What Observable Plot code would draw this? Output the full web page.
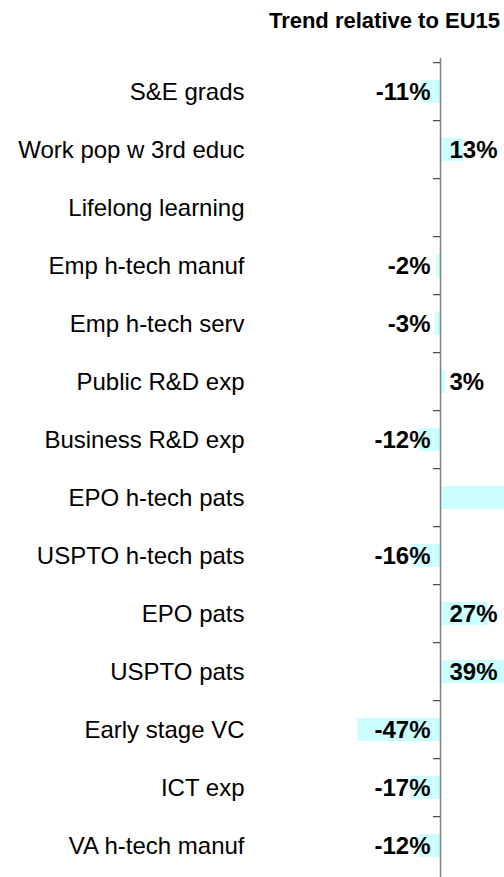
<!DOCTYPE html>
<html>
<head>
<meta charset="utf-8">
<script src="https://cdn.jsdelivr.net/npm/d3@7"></script>
<script src="https://cdn.jsdelivr.net/npm/@observablehq/plot@0.6"></script>
<style>
  html, body { margin: 0; padding: 0; background: #fff; width: 504px; height: 877px; overflow: hidden; }
  #title { height: 58px; box-sizing: border-box; padding-top: 10px; padding-right: 4px; text-align: right;
           font: bold 22px Arial, "Liberation Sans", sans-serif; line-height: 22px; color: #000; white-space: nowrap; }
  #chart svg { display: block; }
</style>
</head>
<body>
<div id="title">Trend relative to EU15</div>
<div id="chart"></div>
<script>
const categories = [
  "S&E grads", "Work pop w 3rd educ", "Lifelong learning", "Emp h-tech manuf",
  "Emp h-tech serv", "Public R&D exp", "Business R&D exp", "EPO h-tech pats",
  "USPTO h-tech pats", "EPO pats", "USPTO pats", "Early stage VC", "ICT exp", "VA h-tech manuf"
];
const values = [-11, 13, null, -2, -3, 3, -12, 60, -16, 27, 39, -47, -17, -12];
const labels = ["-11%", "13%", "", "-2%", "-3%", "3%", "-12%", "", "-16%", "27%", "39%", "-47%", "-17%", "-12%"];

const data = categories.map((c, i) => ({cat: c, value: values[i], label: labels[i]}));

const H = 822;
const step = H / categories.length;

const chart = Plot.plot({
  width: 504,
  height: H,
  marginLeft: 352,
  marginRight: 0,
  marginTop: 0,
  marginBottom: 0,
  x: {domain: [-50, 36.36], axis: null},
  y: {domain: categories, paddingInner: 0.6, paddingOuter: 0.3, axis: null},
  style: {fontFamily: "Arial, 'Liberation Sans', sans-serif", background: "#fff", color: "#000", overflow: "hidden"},
  marks: [
    Plot.barX(data.filter(d => d.value != null), {y: "cat", x: "value", fill: "#ccffff", clip: true}),
    Plot.ruleX([0], {stroke: "#808080", strokeWidth: 1.5}),
    Plot.ruleY(data, {y: "cat", x1: -4, x2: 0, dy: -step / 2, stroke: "#444", strokeWidth: 1.2}),
    Plot.text(data.filter(d => d.label && d.value < 0), {
      y: "cat", x: 0, text: "label", textAnchor: "end", dx: -10,
      fontWeight: "bold", fontSize: 24, fill: "#000"
    }),
    Plot.text(data.filter(d => d.label && d.value >= 0), {
      y: "cat", x: 0, text: "label", textAnchor: "start", dx: 9,
      fontWeight: "bold", fontSize: 24, fill: "#000"
    }),
    Plot.axisY({anchor: "left", tickSize: 0, tickPadding: 108, fontSize: 24, label: null, fill: "#000"})
  ]
});
document.getElementById("chart").appendChild(chart);
</script>
</body>
</html>
